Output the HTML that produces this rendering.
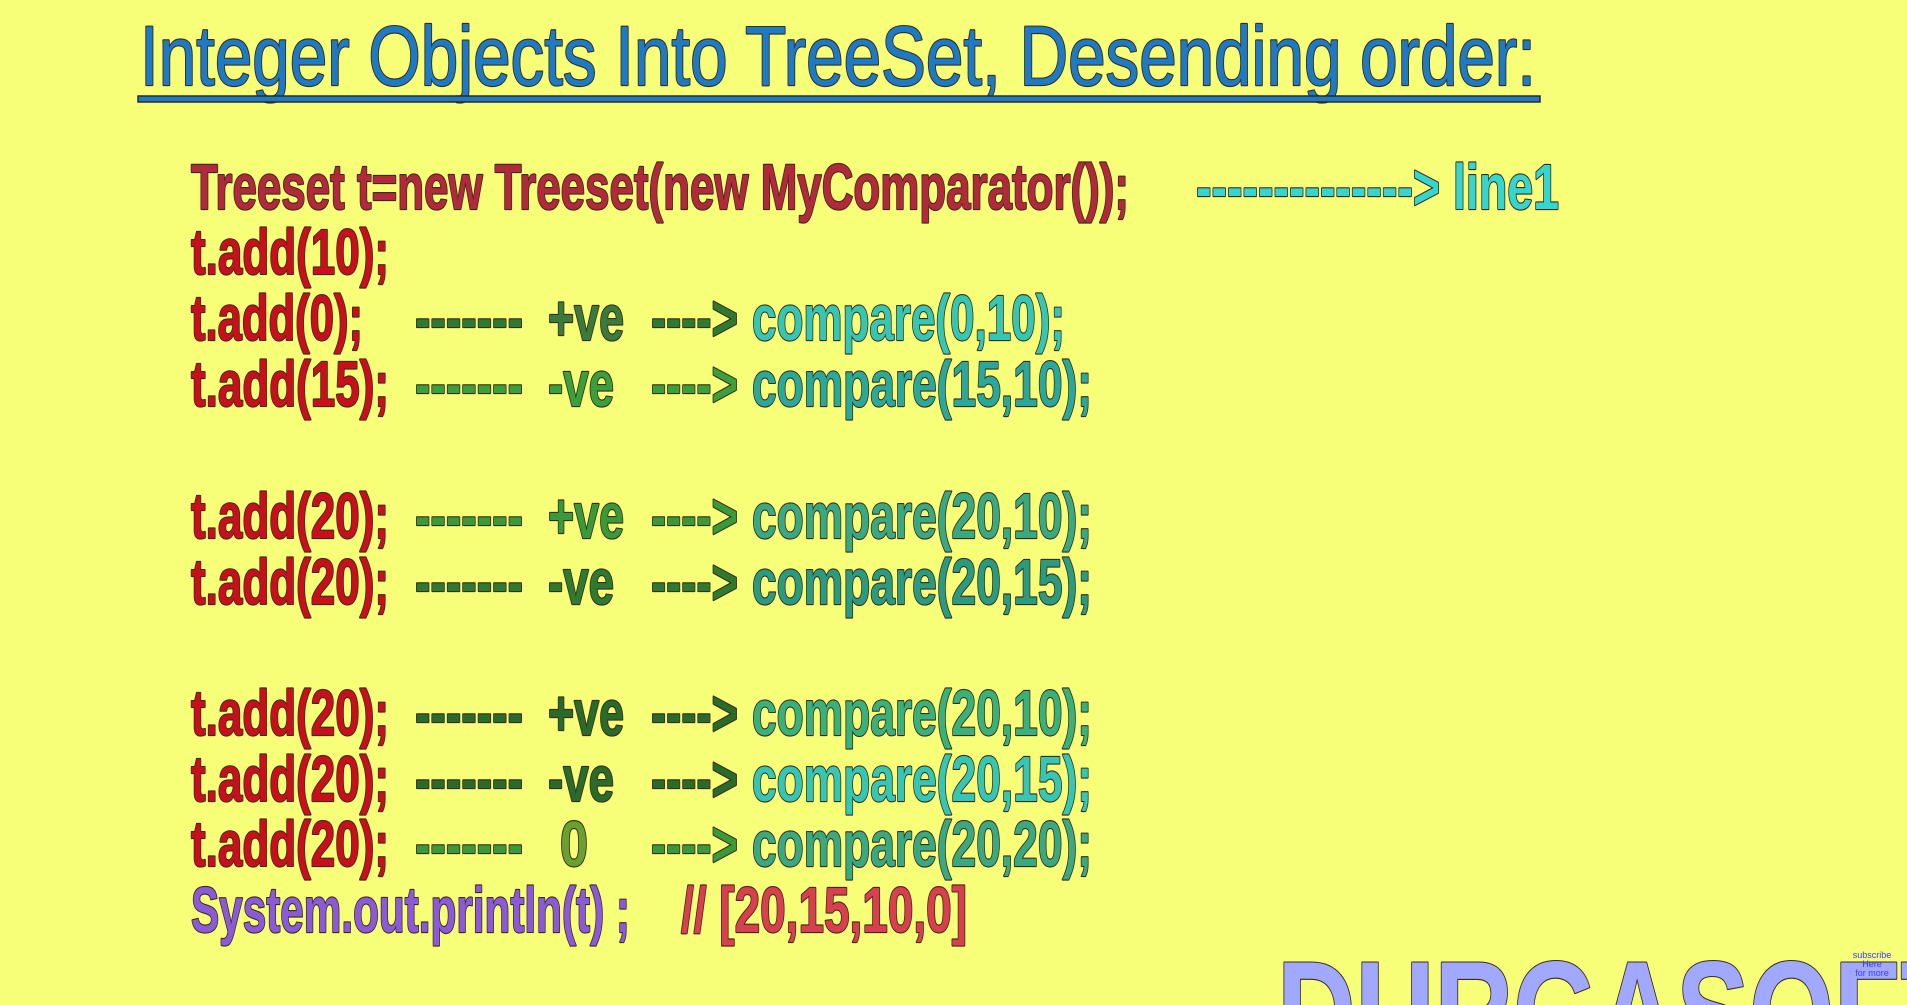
<!DOCTYPE html>
<html><head><meta charset="utf-8"><style>
html,body{margin:0;padding:0;background:#f7fe78;width:1907px;height:1005px;overflow:hidden;}
svg{display:block}
text{font-family:"Liberation Sans",Arial,sans-serif;paint-order:stroke;stroke:#3a2a20;stroke-width:2.2px;stroke-linejoin:round}
text.ns{stroke:none}
</style></head><body>
<svg width="1907" height="1005" viewBox="0 0 1907 1005" xmlns="http://www.w3.org/2000/svg">
<rect width="1907" height="1005" fill="#f7fe78"/>
<text x="140" y="85" font-size="84" fill="#1f7ac4" textLength="1396" lengthAdjust="spacingAndGlyphs">Integer Objects Into TreeSet, Desending order:</text>
<rect x="138" y="96" width="1402" height="6" fill="#1f7ac4" stroke="#2a2a2a" stroke-width="1.5"/>

<g font-weight="bold" transform="translate(0,4)">
<text x="191" y="205" font-size="64" fill="#b02a3c" textLength="938" lengthAdjust="spacingAndGlyphs">Treeset t=new Treeset(new MyComparator());</text>
<text x="1196" y="205" font-size="64" fill="#36d6d0" textLength="363" lengthAdjust="spacingAndGlyphs">--------------&gt; line1</text>

<g font-size="64">
<text x="191" y="270" fill="#c8101c" textLength="198" lengthAdjust="spacingAndGlyphs">t.add(10);</text>

<text x="191" y="336" fill="#c8101c" textLength="172" lengthAdjust="spacingAndGlyphs">t.add(0);</text>
<text x="415" y="336" fill="#2e7a2e" textLength="108" lengthAdjust="spacingAndGlyphs">-------</text>
<text x="548" y="336" fill="#3a7a3a" textLength="76" lengthAdjust="spacingAndGlyphs">+ve</text>
<text x="651" y="336" fill="#2e7a2e" textLength="87" lengthAdjust="spacingAndGlyphs">----&gt;</text>
<text x="752" y="336" fill="#36c6b4" textLength="313" lengthAdjust="spacingAndGlyphs">compare(0,10);</text>

<text x="191" y="402" fill="#c8101c" textLength="198" lengthAdjust="spacingAndGlyphs">t.add(15);</text>
<text x="415" y="402" fill="#3aa03a" textLength="108" lengthAdjust="spacingAndGlyphs">-------</text>
<text x="548" y="402" fill="#3aa03a" textLength="66" lengthAdjust="spacingAndGlyphs">-ve</text>
<text x="651" y="402" fill="#3aa03a" textLength="87" lengthAdjust="spacingAndGlyphs">----&gt;</text>
<text x="752" y="402" fill="#2aa89a" textLength="340" lengthAdjust="spacingAndGlyphs">compare(15,10);</text>

<text x="191" y="534" fill="#c8101c" textLength="198" lengthAdjust="spacingAndGlyphs">t.add(20);</text>
<text x="415" y="534" fill="#3a9a3a" textLength="108" lengthAdjust="spacingAndGlyphs">-------</text>
<text x="548" y="534" fill="#3a9a3a" textLength="76" lengthAdjust="spacingAndGlyphs">+ve</text>
<text x="651" y="534" fill="#3a9a3a" textLength="87" lengthAdjust="spacingAndGlyphs">----&gt;</text>
<text x="752" y="534" fill="#3aa880" textLength="340" lengthAdjust="spacingAndGlyphs">compare(20,10);</text>

<text x="191" y="600" fill="#c8101c" textLength="198" lengthAdjust="spacingAndGlyphs">t.add(20);</text>
<text x="415" y="600" fill="#2e7a2e" textLength="108" lengthAdjust="spacingAndGlyphs">-------</text>
<text x="548" y="600" fill="#2e7a2e" textLength="66" lengthAdjust="spacingAndGlyphs">-ve</text>
<text x="651" y="600" fill="#2e7a2e" textLength="87" lengthAdjust="spacingAndGlyphs">----&gt;</text>
<text x="752" y="600" fill="#2a9a80" textLength="340" lengthAdjust="spacingAndGlyphs">compare(20,15);</text>

<text x="191" y="731" fill="#c8101c" textLength="198" lengthAdjust="spacingAndGlyphs">t.add(20);</text>
<text x="415" y="731" fill="#2a6a2a" textLength="108" lengthAdjust="spacingAndGlyphs">-------</text>
<text x="548" y="731" fill="#2a6a2a" textLength="76" lengthAdjust="spacingAndGlyphs">+ve</text>
<text x="651" y="731" fill="#2a6a2a" textLength="87" lengthAdjust="spacingAndGlyphs">----&gt;</text>
<text x="752" y="731" fill="#3ab07a" textLength="340" lengthAdjust="spacingAndGlyphs">compare(20,10);</text>

<text x="191" y="797" fill="#c8101c" textLength="198" lengthAdjust="spacingAndGlyphs">t.add(20);</text>
<text x="415" y="797" fill="#2a6a2a" textLength="108" lengthAdjust="spacingAndGlyphs">-------</text>
<text x="548" y="797" fill="#2a6a2a" textLength="66" lengthAdjust="spacingAndGlyphs">-ve</text>
<text x="651" y="797" fill="#2a6a2a" textLength="87" lengthAdjust="spacingAndGlyphs">----&gt;</text>
<text x="752" y="797" fill="#36c6b4" textLength="340" lengthAdjust="spacingAndGlyphs">compare(20,15);</text>

<text x="191" y="862" fill="#c8101c" textLength="198" lengthAdjust="spacingAndGlyphs">t.add(20);</text>
<text x="415" y="862" fill="#3a9a3a" textLength="108" lengthAdjust="spacingAndGlyphs">-------</text>
<text x="560" y="862" fill="#6aa030" textLength="28" lengthAdjust="spacingAndGlyphs">0</text>
<text x="651" y="862" fill="#3a9a3a" textLength="87" lengthAdjust="spacingAndGlyphs">----&gt;</text>
<text x="752" y="862" fill="#3aa880" textLength="340" lengthAdjust="spacingAndGlyphs">compare(20,20);</text>

<text x="191" y="928" fill="#8a5ad8" textLength="439" lengthAdjust="spacingAndGlyphs">System.out.println(t) ;</text>
<text x="681" y="928" fill="#d84050" textLength="286" lengthAdjust="spacingAndGlyphs">// [20,15,10,0]</text>
</g>
</g>

<text x="1277" y="1063" font-size="146" font-weight="bold" fill="#a0a8ff" stroke="#4a3a30" stroke-width="2.5" textLength="690" lengthAdjust="spacingAndGlyphs">DURGASOFT</text>
<g font-size="9" fill="#3a3aff" text-anchor="middle">
<text class="ns" x="1872" y="958">subscribe</text>
<text class="ns" x="1872" y="967">Here</text>
<text class="ns" x="1872" y="976">for more</text>
</g>
</svg>
</body></html>
